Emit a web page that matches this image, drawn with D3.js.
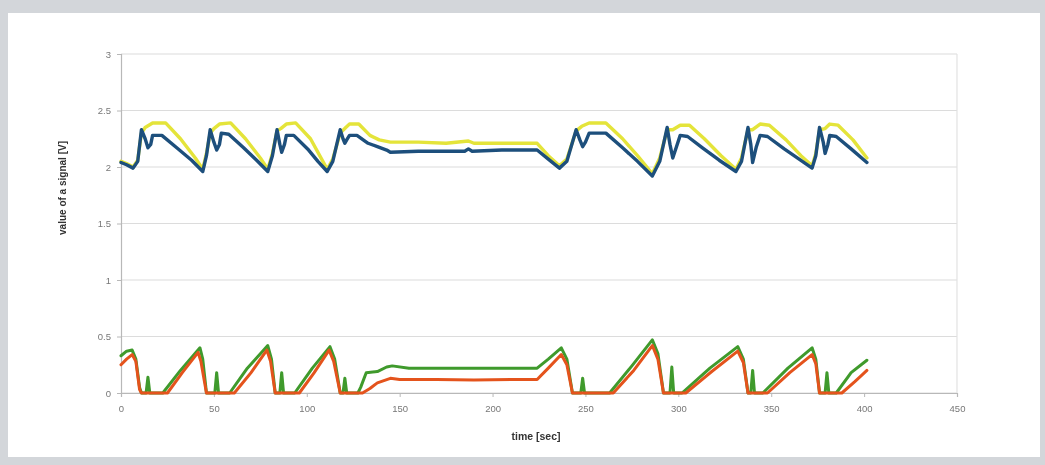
<!DOCTYPE html>
<html><head><meta charset="utf-8">
<script src="https://cdn.jsdelivr.net/npm/d3@7"></script>
<style>
html,body{margin:0;padding:0;background:#d3d6da;}
svg{display:block;}
</style></head>
<body>
<svg id="chart" width="1045" height="465"></svg>
<script>
const xTicks = [0,50,100,150,200,250,300,350,400,450];
const yTicks = [0,0.5,1,1.5,2,2.5,3];
const xTitle = "time [sec]";
const yTitle = "value of a signal [V]";

const yellow = [[0,2.05],[3,2.03],[6.5,2.0],[9,2.06],[11,2.3],[13,2.35],[17,2.39],[24,2.39],[32,2.25],[40,2.08],[44,1.98],[46,2.12],[48,2.3],[50,2.34],[53,2.38],[59,2.39],[67,2.25],[75,2.08],[79,1.98],[81.5,2.12],[84,2.32],[86,2.34],[89,2.38],[94,2.39],[102,2.25],[108,2.07],[111,1.98],[114,2.07],[118,2.3],[121,2.35],[123,2.38],[128,2.38],[134,2.28],[139,2.24],[145,2.22],[160,2.22],[175,2.21],[187,2.23],[190,2.21],[205,2.21],[224,2.21],[230,2.1],[236,2.01],[240,2.07],[245,2.32],[248,2.36],[252,2.39],[261,2.39],[270,2.25],[278,2.1],[286,1.94],[290,2.08],[294,2.33],[297,2.33],[301,2.37],[306,2.37],[314,2.25],[323,2.1],[331,1.98],[334,2.08],[337.5,2.33],[340,2.33],[344,2.38],[349,2.37],[358,2.24],[366,2.1],[372,2.01],[374,2.12],[376,2.33],[379,2.34],[381.5,2.38],[386,2.37],[394,2.24],[401.5,2.08]];

const blue = [[0,2.04],[3,2.02],[6.5,1.99],[9,2.05],[11,2.33],[13,2.25],[14.5,2.17],[16,2.2],[17,2.28],[22,2.28],[30,2.17],[38,2.06],[44,1.96],[46,2.1],[48,2.33],[50,2.22],[51.5,2.15],[53,2.2],[54,2.3],[58,2.29],[66,2.17],[73,2.06],[79,1.96],[81.5,2.1],[84,2.33],[85.5,2.2],[86.5,2.13],[88,2.2],[89,2.28],[93,2.28],[101,2.15],[106,2.05],[111,1.96],[114,2.05],[118,2.33],[119.5,2.25],[120.5,2.21],[121.5,2.24],[123,2.28],[127,2.28],[133,2.21],[138,2.18],[143,2.15],[145,2.13],[160,2.14],[175,2.14],[185,2.14],[187,2.16],[189,2.14],[205,2.15],[224,2.15],[230,2.07],[236,1.99],[240,2.05],[245,2.33],[247,2.24],[248.5,2.18],[250,2.22],[252,2.3],[261,2.3],[270,2.17],[278,2.05],[286,1.92],[290,2.05],[294,2.35],[295.5,2.2],[297,2.08],[299,2.18],[301,2.28],[305,2.27],[313,2.17],[322,2.06],[331,1.96],[334,2.05],[337.5,2.35],[339,2.2],[340,2.04],[342,2.18],[344,2.28],[348,2.27],[357,2.16],[365,2.07],[372,1.99],[374,2.1],[376,2.35],[378,2.22],[379,2.12],[380.5,2.2],[381.5,2.28],[385,2.27],[393,2.16],[401.5,2.04]];

const green = [[0,0.33],[3,0.37],[6,0.38],[8,0.3],[10,0.05],[11,0],[13.5,0],[14.5,0.14],[15.5,0],[22.5,0],[32,0.2],[42.5,0.4],[44,0.3],[46,0],[50.5,0],[51.5,0.18],[52.5,0],[58.5,0],[68,0.22],[79,0.42],[81,0.3],[83,0],[85.5,0],[86.5,0.18],[87.5,0],[93.5,0],[103,0.22],[112.5,0.41],[115,0.3],[118,0],[119.5,0],[120.5,0.13],[121.5,0],[127.5,0],[129,0.05],[132,0.18],[138,0.19],[143,0.23],[146,0.24],[155,0.22],[180,0.22],[200,0.22],[224,0.22],[230,0.3],[237,0.4],[240,0.3],[243,0],[247.5,0],[248.5,0.13],[249.5,0],[263,0],[275,0.24],[286,0.47],[289,0.35],[292,0],[295.5,0],[296.5,0.23],[297.5,0],[302,0],[317,0.22],[332,0.41],[335,0.3],[337.5,0],[339,0],[340,0.2],[341,0],[345.5,0],[359,0.22],[372,0.40],[374,0.3],[376,0],[379,0],[380,0.18],[381,0],[385,0],[393,0.18],[401.5,0.29]];

const red = [[0,0.25],[3,0.3],[6,0.34],[8,0.28],[10,0.03],[11,0],[25,0],[33,0.18],[41.5,0.36],[43,0.28],[46,0],[61,0],[70,0.18],[78.5,0.38],[80.5,0.28],[83,0],[96,0],[104,0.18],[112,0.38],[114.5,0.28],[118,0],[130,0],[134,0.04],[138,0.09],[145,0.13],[150,0.12],[170,0.12],[190,0.115],[210,0.12],[224,0.12],[230,0.22],[237,0.34],[240,0.25],[243,0],[265,0],[276,0.2],[286,0.42],[289,0.3],[292,0],[304,0],[318,0.19],[332,0.37],[335,0.27],[337.5,0],[348,0],[360,0.18],[372,0.34],[374,0.26],[376,0],[388,0],[395,0.1],[401.5,0.2]];

const series = [
  {data: yellow, color: "#e4e43a", width: 3.4},
  {data: blue,   color: "#1d4f7c", width: 3.4},
  {data: green,  color: "#3f9a2c", width: 3},
  {data: red,    color: "#e4531c", width: 3}
];

const svg = d3.select("#chart");
svg.append("rect").attr("x",8).attr("y",13).attr("width",1032).attr("height",444).attr("fill","#ffffff");

const x = d3.scaleLinear().domain([0,450]).range([121,957]);
const y = d3.scaleLinear().domain([0,3]).range([393,54]);

const g = svg.append("g").style("filter","blur(0.5px)");

g.append("g").selectAll("line").data(yTicks).join("line")
  .attr("x1",x(0)).attr("x2",x(450)).attr("y1",d=>y(d)).attr("y2",d=>y(d))
  .attr("stroke","#dcdcdc").attr("stroke-width",1.2);
g.append("line").attr("x1",x(450)).attr("x2",x(450)).attr("y1",y(3)).attr("y2",y(0))
  .attr("stroke","#e2e2e2").attr("stroke-width",1.2);

const yAxis = g.append("g").attr("transform",`translate(${x(0)},0)`)
  .call(d3.axisLeft(y).tickValues(yTicks).tickSize(4).tickPadding(6).tickFormat(d3.format("")));
const xAxis = g.append("g").attr("transform",`translate(0,${y(0)})`)
  .call(d3.axisBottom(x).tickValues(xTicks).tickSize(4).tickPadding(8).tickFormat(d3.format("d")));
[yAxis,xAxis].forEach(a=>{
  a.select(".domain").attr("stroke","#b8b8b8").attr("stroke-width",1.2);
  a.selectAll(".tick line").attr("stroke","#b8b8b8");
  a.selectAll("text").attr("fill","#777").style("font-family","Liberation Sans, Arial, sans-serif").style("font-size","9.5px");
});

const line = d3.line().x(d=>x(d[0])).y(d=>y(d[1])).curve(d3.curveLinear);
series.forEach(s=>{
  g.append("path").datum(s.data).attr("d",line)
    .attr("fill","none").attr("stroke",s.color).attr("stroke-width",s.width)
    .attr("stroke-linejoin","round").attr("stroke-linecap","round");
});

g.append("text").attr("x",536).attr("y",440).attr("text-anchor","middle")
  .style("font-family","Liberation Sans, Arial, sans-serif").style("font-size","10.5px").style("font-weight","bold")
  .attr("fill","#333").text(xTitle);
g.append("text").attr("transform","translate(66,188) rotate(-90)").attr("text-anchor","middle")
  .style("font-family","Liberation Sans, Arial, sans-serif").style("font-size","10px").style("font-weight","bold")
  .attr("fill","#333").text(yTitle);
</script>
</body></html>
